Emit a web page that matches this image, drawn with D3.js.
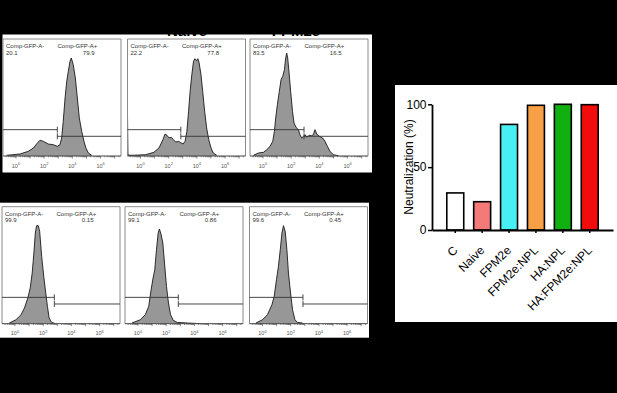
<!DOCTYPE html>
<html><head><meta charset="utf-8">
<script src="https://cdn.jsdelivr.net/npm/d3@7"></script>
<style>
html,body{margin:0;padding:0;background:#000;}
svg{display:block;}
</style></head><body>
<svg id="c" width="617" height="393"></svg>
<script>
// ---------- DATA ----------
// Flow cytometry histograms: [log10 fluorescence, % of max]
const panelTitles = ["", "Naive", "FPM2e", "", "", ""];
const gateNegName = "Comp-GFP-A-";
const gatePosName = "Comp-GFP-A+";
const pctNeg = ["20.1", "22.2", "83.5", "99.9", "99.1", "99.6"];
const pctPos = ["79.9", "77.8", "16.5", "0.15", "0.86", "0.45"];
const gateBoundary = [2.93, 2.86, 2.91, 2.79, 2.86, 2.87];
const gateLevels = [26.6, 19.9];
const decadeTicks = [0, 2, 4, 6];

const hist1 = [[-0.66,0.7],[0.28,2],[0.87,4.7],[1.23,8],[1.51,13],[1.70,15.9],[1.94,14.8],[2.29,12.1],[2.65,11.4],[2.93,9.8],[3.12,11.4],[3.24,18.2],[3.35,35],[3.48,58.6],[3.60,75.5],[3.71,85.6],[3.83,95.7],[3.92,99],[4.06,92.2],[4.21,78.8],[4.35,58.6],[4.49,38.4],[4.66,24.9],[4.82,14.8],[4.96,8],[5.13,3],[5.37,0.7]];
const hist2 = [[-0.92,40],[-0.89,1],[-0.59,0.7],[0.36,1.3],[0.95,3.7],[1.31,8.1],[1.59,16.5],[1.74,22.2],[1.88,20.9],[2.02,18.2],[2.19,18.9],[2.34,16.5],[2.5,14.1],[2.69,14.8],[2.86,13.4],[3.02,12.1],[3.16,14.8],[3.29,24.9],[3.41,45.2],[3.52,65.4],[3.64,82.1],[3.76,95.7],[3.86,98.3],[3.98,96.3],[4.07,98.3],[4.16,93.9],[4.29,82.1],[4.41,65.4],[4.55,45.2],[4.69,28.3],[4.84,16.5],[5.0,8.1],[5.16,3],[5.41,0.7]];
const hist3 = [[-0.68,0.7],[-0.33,3],[0.03,3.7],[0.26,6.4],[0.50,9.8],[0.69,14.8],[0.81,24.9],[0.90,38.4],[1.02,51.8],[1.16,65.4],[1.28,77.1],[1.40,80.5],[1.52,87.2],[1.61,99],[1.68,104],[1.75,99],[1.84,85.6],[1.96,65.4],[2.09,45.2],[2.20,33.3],[2.34,29],[2.51,26.6],[2.62,21.5],[2.74,18.2],[2.87,19.9],[2.98,21.5],[3.10,18.9],[3.29,20.9],[3.45,20.5],[3.57,21.5],[3.69,26.6],[3.81,22.2],[4.0,19.9],[4.23,18.2],[4.40,14.8],[4.57,9.8],[4.75,4.7],[4.99,1.3],[5.35,0.3]];
const hist4 = [[-0.41,0.7],[0.07,4],[0.43,9.1],[0.67,15.9],[0.91,26],[1.08,36.1],[1.22,51.2],[1.34,71.4],[1.44,91.6],[1.53,99],[1.65,99],[1.75,93.2],[1.89,68],[2.04,47.8],[2.18,31],[2.30,17.5],[2.42,5.8],[2.59,1.3],[2.83,0.3]];
const hist5 = [[-0.43,0.7],[0.16,4],[0.52,9.1],[0.76,17.5],[0.93,34.3],[1.07,46.2],[1.19,54.5],[1.31,74.7],[1.43,91.6],[1.52,95.7],[1.64,90],[1.76,81.5],[1.88,61.3],[2.02,37.7],[2.16,20.9],[2.31,9.1],[2.5,3.4],[2.79,1.3],[3.5,0.7],[4.45,0]];
const hist6 = [[-0.47,0.7],[0,4],[0.35,9.1],[0.67,19.2],[0.83,27.6],[0.99,44.4],[1.13,57.9],[1.26,74.7],[1.38,91.6],[1.49,99],[1.61,93.2],[1.73,74.7],[1.84,51.2],[1.99,31],[2.13,14.1],[2.30,4],[2.48,1.3],[2.84,0.7]];
const histograms = [hist1, hist2, hist3, hist4, hist5, hist6];

// Bar chart
const categories = ["C", "Naive", "FPM2e", "FPM2e:NPL", "HA:NPL", "HA:FPM2e:NPL"];
const neutralization = [29.5, 22.5, 84, 99.2, 100, 99.7];
const barColors = ["#ffffff", "#f47a7a", "#48eff2", "#f8a046", "#10b010", "#f20c0c"];
const yTicks = [0, 50, 100];
const yLabel = "Neutralization (%)";

// ---------- LAYOUT ----------
const svg = d3.select("#c");
svg.append("rect").attr("width", 617).attr("height", 393).attr("fill", "#000");
svg.append("rect").attr("x", 2.5).attr("y", 34.5).attr("width", 369.5).attr("height", 138).attr("fill", "#fff");
svg.append("rect").attr("x", 0).attr("y", 202.7).attr("width", 369).attr("height", 135).attr("fill", "#fff");
svg.append("rect").attr("x", 395).attr("y", 85).attr("width", 222).attr("height", 237).attr("fill", "#fff");

const panelLeft = [3, 127.5, 250, 2, 125, 249.5];
const panelTop = [39, 39, 39, 206.7, 206.7, 206.7];
const titleCenters = [62, 187, 296];
const W = 118, H = 117;
const fx = d3.scaleLinear().domain([-13 / 14.1, (W - 13) / 14.1]).range([0, W]);
const fy = d3.scaleLinear().domain([0, 100]).range([H, H - 99]);
const font = "'Liberation Sans', Arial, sans-serif";

// titles (black on black, only bottom edges peek into white band)
panelTitles.slice(0, 3).forEach((t, i) => {
  if (!t) return;
  svg.append("text").attr("x", titleCenters[i]).attr("y", 35.8).attr("text-anchor", "middle")
    .attr("font-family", font).attr("font-weight", "bold").attr("font-size", 15).attr("fill", "#000").text(t);
});

const defs = svg.append("defs");
histograms.forEach((data, i) => {
  const g = svg.append("g").attr("transform", `translate(${panelLeft[i]},${panelTop[i]})`);
  defs.append("clipPath").attr("id", "clip" + i).append("rect").attr("width", W).attr("height", H);
  const area = d3.area().x(d => fx(d[0])).y0(fy(0)).y1(d => fy(d[1]));
  const line = d3.line().x(d => fx(d[0])).y(d => fy(d[1]));
  const ga = g.append("g").attr("clip-path", `url(#clip${i})`);
  ga.append("path").datum(data).attr("d", area).attr("fill", "#979797");
  ga.append("path").datum(data).attr("d", line).attr("fill", "none").attr("stroke", "#1a1a1a").attr("stroke-width", 0.9);
  g.append("path").attr("d", `M0,${H}V0H${W}V${H}`).attr("fill", "none").attr("stroke", "#8a8a8a").attr("stroke-width", 1);
  g.append("line").attr("x1", 0).attr("x2", W).attr("y1", H).attr("y2", H).attr("stroke", "#444").attr("stroke-width", 1);
  d3.range(-1, 8).forEach(dcd => {
    for (let k = 1; k <= 9; k++) {
      const v = dcd + Math.log10(k);
      const px = fx(v);
      if (px < 0.5 || px > W - 0.5) continue;
      g.append("line").attr("x1", px).attr("x2", px).attr("y1", H).attr("y2", H + (k === 1 ? 2.5 : 1.3))
        .attr("stroke", "#444").attr("stroke-width", 0.6);
    }
  });
  decadeTicks.forEach(dcd => {
    const t = g.append("text").attr("x", fx(dcd)).attr("y", H + 11.5).attr("text-anchor", "middle")
      .attr("font-family", font).attr("font-size", 5.5).attr("fill", "#555");
    t.append("tspan").text("10");
    t.append("tspan").attr("dy", -2.2).attr("font-size", 4).text(dcd);
  });
  const gx = fx(gateBoundary[i]);
  const yNeg = fy(gateLevels[0]), yPos = fy(gateLevels[1]);
  const gs = g.append("g").attr("stroke", "#333").attr("stroke-width", 0.9).attr("fill", "none");
  gs.append("line").attr("x1", 0).attr("x2", gx).attr("y1", yNeg).attr("y2", yNeg);
  gs.append("line").attr("x1", gx).attr("x2", gx).attr("y1", yNeg - 3).attr("y2", yNeg + 3);
  gs.append("line").attr("x1", gx).attr("x2", W).attr("y1", yPos).attr("y2", yPos);
  gs.append("line").attr("x1", gx).attr("x2", gx).attr("y1", yPos - 3).attr("y2", yPos + 3);
  const lab = g.append("g").attr("font-family", font).attr("font-size", 6).attr("fill", "#333");
  lab.append("text").attr("x", 3).attr("y", 9).text(gateNegName);
  lab.append("text").attr("x", 3).attr("y", 15.5).text(pctNeg[i]);
  lab.append("text").attr("x", 54.5).attr("y", 9).text(gatePosName);
  lab.append("text").attr("x", 91.5).attr("y", 15.5).attr("text-anchor", "end").text(pctPos[i]);
});

// ---------- BAR CHART ----------
const xb = d3.scaleBand().domain(categories).range([432, 613]).paddingInner(0.37).paddingOuter(0.55);
const yb = d3.scaleLinear().domain([0, 100]).range([230, 104.3]);
const bc = svg.append("g");
bc.selectAll("rect.bar").data(categories).join("rect").attr("class", "bar")
  .attr("x", d => xb(d)).attr("width", xb.bandwidth())
  .attr("y", (d, i) => yb(neutralization[i])).attr("height", (d, i) => yb(0) - yb(neutralization[i]))
  .attr("fill", (d, i) => barColors[i]).attr("stroke", "#000").attr("stroke-width", 1.6);

const yAxis = bc.append("g").attr("transform", "translate(432,0)")
  .call(d3.axisLeft(yb).tickValues(yTicks).tickSize(4).tickSizeOuter(0).tickPadding(1.5));
const xAxis = bc.append("g").attr("transform", "translate(0,230)")
  .call(d3.axisBottom(xb).tickSize(3).tickSizeOuter(0));
[yAxis, xAxis].forEach(a => {
  a.select(".domain").attr("stroke", "#000").attr("stroke-width", 1.8);
  a.selectAll(".tick line").attr("stroke", "#000").attr("stroke-width", 1.5);
  a.selectAll("text").attr("font-family", font).attr("font-size", 12).attr("fill", "#000");
});
xAxis.selectAll(".tick text").attr("x", 0).attr("y", 0).attr("dy", 0)
  .attr("text-anchor", "end").attr("transform", "translate(3,21) rotate(-45)");
bc.append("text").attr("transform", "translate(409,167) rotate(-90)").attr("dy", "0.35em")
  .attr("text-anchor", "middle").attr("font-family", font).attr("font-size", 12).attr("fill", "#000").text(yLabel);
</script>
</body></html>
